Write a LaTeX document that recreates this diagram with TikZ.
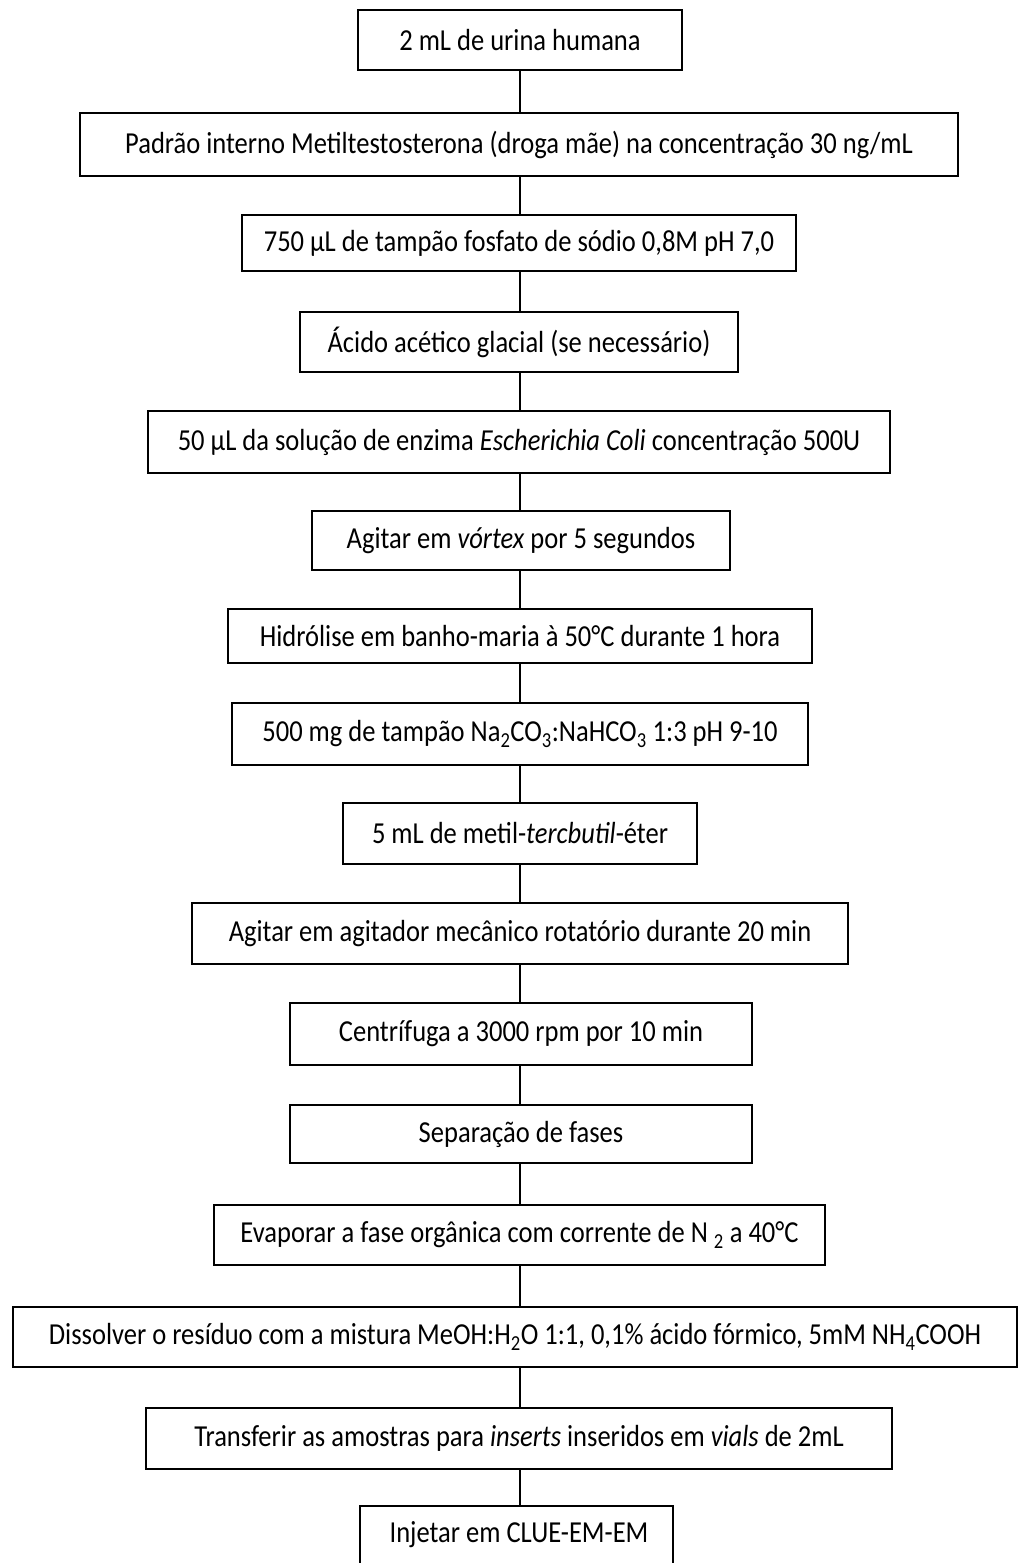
\documentclass[tikz,border=0pt]{standalone}
\usepackage{fontspec}
\setmainfont{Carlito}[FakeStretch=0.87]
\newcommand\sub[1]{\textsubscript{#1}}
\tikzset{
  stepbox/.style={draw=black, line width=2.6pt, inner sep=0pt, font=\fontsize{30.5}{34}\selectfont, anchor=center},
  link/.style={draw=black, line width=1.7pt}
}
\newcommand\bx[6]{\node[stepbox, minimum width=#3-#2, minimum height=#5-#4] (#1) at ({(#2+#3)/2},{(#4+#5)/2}) {#6};}
\begin{document}
\begin{tikzpicture}[x=1pt,y=-1pt]
\clip (0,0) rectangle (1019,1563);
\fill[white] (0,0) rectangle (1019,1563);
\bx{b1}{358}{682}{10}{70}{2 mL de urina humana}
\bx{b2}{80}{958}{113}{176}{Padrão interno Metiltestosterona (droga mãe) na concentração 30 ng/mL}
\bx{b3}{242}{796}{215}{271}{750 µL de tampão fosfato de sódio 0,8M pH 7,0}
\bx{b4}{300}{738}{312}{372}{Ácido acético glacial (se necessário)}
\bx{b5}{148}{890}{411}{473}{50 µL da solução de enzima \textit{Escherichia Coli} concentração 500U}
\bx{b6}{312}{730}{511}{570}{Agitar em \textit{vórtex} por 5 segundos}
\bx{b7}{228}{812}{609}{663}{Hidrólise em banho-maria à 50°C durante 1 hora}
\bx{b8}{232}{808}{703}{765}{500 mg de tampão Na\sub{2}CO\sub{3}:NaHCO\sub{3} 1:3 pH 9-10}
\bx{b9}{343}{697}{803}{864}{5 mL de metil-\textit{tercbutil}-éter}
\bx{b10}{192}{848}{903}{964}{Agitar em agitador mecânico rotatório durante 20 min}
\bx{b11}{290}{752}{1003}{1065}{Centrífuga a 3000 rpm por 10 min}
\bx{b12}{290}{752}{1105}{1163}{Separação de fases}
\bx{b13}{214}{825}{1205}{1265}{Evaporar a fase orgânica com corrente de N \sub{2} a 40°C}
\bx{b14}{13}{1017}{1307}{1367}{Dissolver o resíduo com a mistura MeOH:H\sub{2}O 1:1, 0,1\% ácido fórmico, 5mM NH\sub{4}COOH}
\bx{b15}{146}{892}{1408}{1469}{Transferir as amostras para \textit{inserts} inseridos em \textit{vials} de 2mL}
\bx{b16}{360}{673}{1506}{1620}{}
\node[font=\fontsize{30.5}{34}\selectfont] (t16) at (519,1535) {Injetar em CLUE-EM-EM};
\foreach \a/\b in {b1/b2,b2/b3,b3/b4,b4/b5,b5/b6,b6/b7,b7/b8,b8/b9,b9/b10,b10/b11,b11/b12,b12/b13,b13/b14,b14/b15,b15/b16}
  \draw[link] (\a.south -| 520,0) -- (\b.north -| 520,0);
\end{tikzpicture}
\end{document}
